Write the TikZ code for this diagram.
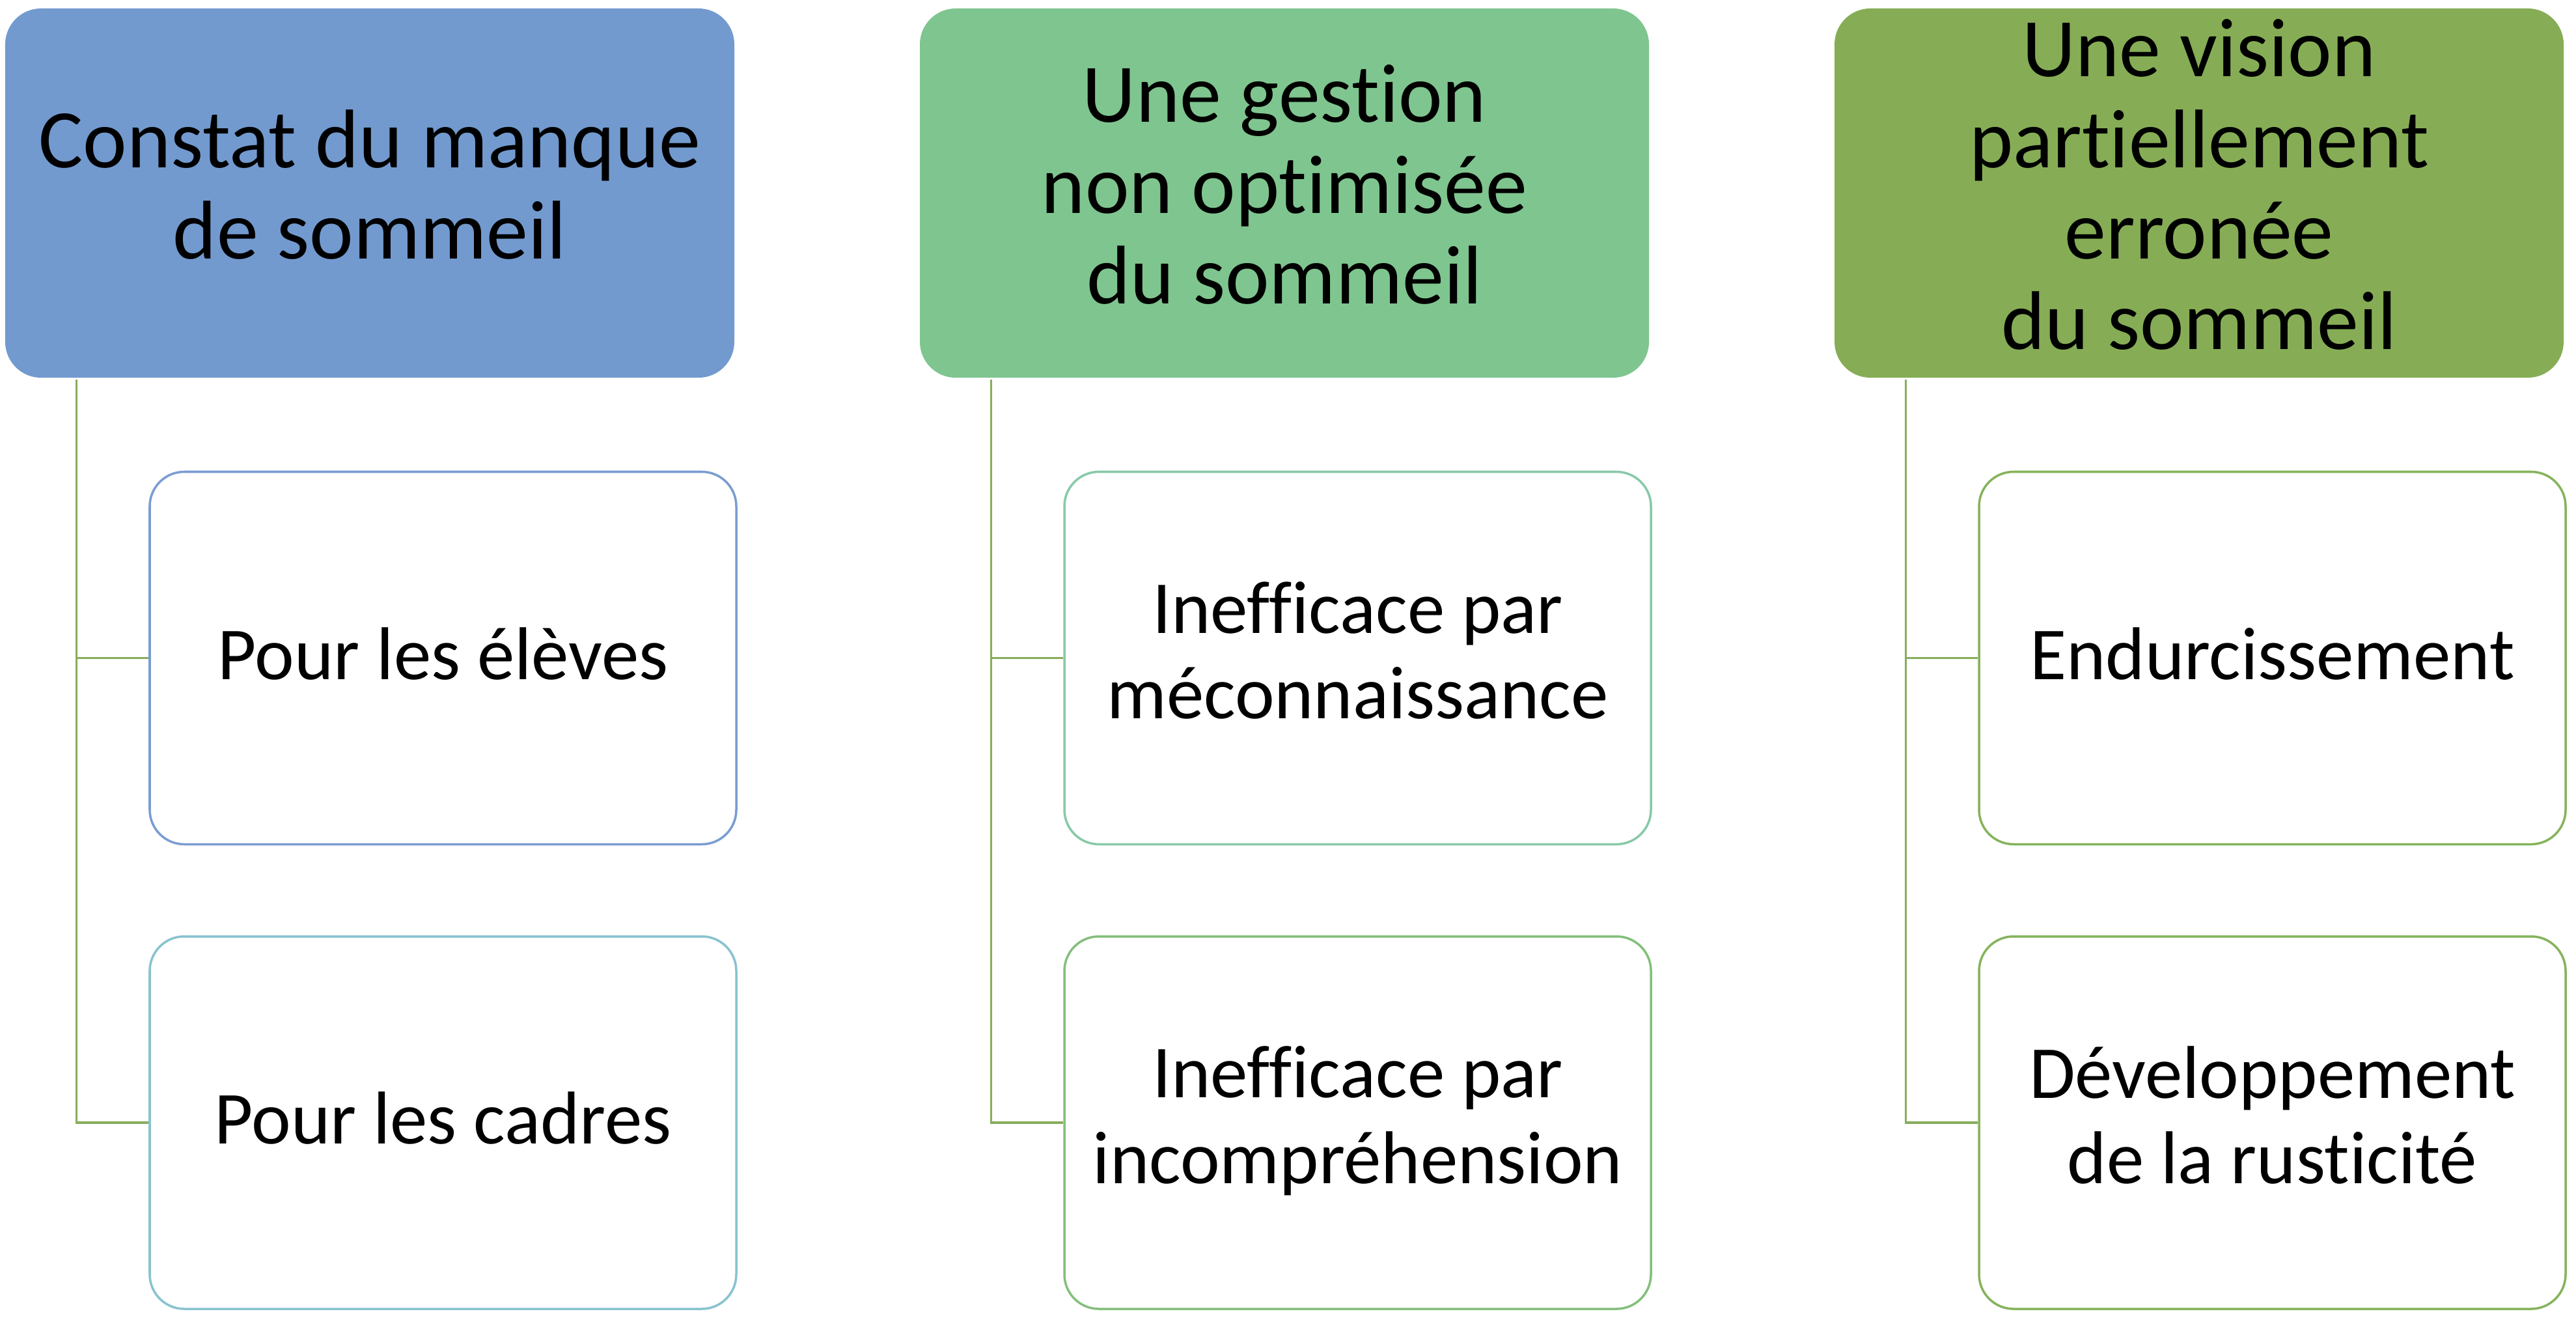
\documentclass[tikz,border=0pt]{standalone}
\usepackage{fontspec}
\setmainfont{Carlito}[Ligatures={NoCommon}]
\definecolor{pblue}{HTML}{729ACF}
\definecolor{pgreen}{HTML}{7FC58F}
\definecolor{polive}{HTML}{86AD55}
\definecolor{trunk}{HTML}{88AD5C}
\definecolor{bblue}{HTML}{7A9DD1}
\definecolor{bteal}{HTML}{88C3CF}
\definecolor{bmint}{HTML}{88C9A8}
\definecolor{bgreen}{HTML}{84BF7C}
\definecolor{bolive}{HTML}{86B35C}
\newcommand\mystrut{\rule[-0.21em]{0pt}{0.99em}}
\begin{document}
\begin{tikzpicture}[
  parent/.style={rounded corners=0.55cm, minimum width=11.20cm, minimum height=5.67cm,
    inner sep=0pt, align=center, font=\fontsize{36.4}{39.8}\selectfont,
    execute at begin node=\mystrut, execute at end node=\mystrut},
  child/.style={draw, line width=1pt, fill=white, rounded corners=0.53cm,
    minimum width=9.01cm, minimum height=5.72cm, inner sep=0pt, align=center,
    font=\fontsize{32.7}{37.3}\selectfont,
    execute at begin node=\mystrut, execute at end node=\mystrut},
  link/.style={draw=trunk, line width=1pt}]
\fill[white] (0,0) rectangle (39.57,-20.24);
\useasboundingbox (0,0) rectangle (39.57,-20.24);

% parents
\node[parent, fill=pblue]  (p1) at (5.68,-2.965)  {Constat du manque\\de sommeil};
\node[parent, fill=pgreen] (p2) at (19.73,-2.965) {Une gestion\\non optimisée\\du sommeil};
\node[parent, fill=polive] (p3) at (33.78,-2.965) {Une vision\\partiellement\\erronée\\du sommeil};

% children
\node[child, draw=bblue]  (c11) at (6.805,-10.105)  {Pour les élèves};
\node[child, draw=bteal]  (c12) at (6.805,-17.24)   {Pour les cadres};
\node[child, draw=bmint]  (c21) at (20.855,-10.105) {Inefficace par\\méconnaissance};
\node[child, draw=bgreen] (c22) at (20.855,-17.24)  {Inefficace par\\incompréhension};
\node[child, draw=bolive] (c31) at (34.905,-10.105) {Endurcissement};
\node[child, draw=bolive] (c32) at (34.905,-17.24)  {Développement\\de la rusticité};

% connectors
\foreach \p/\a/\b in {p1/c11/c12, p2/c21/c22, p3/c31/c32}{
  \draw[link] ([xshift=1.10cm,yshift=-0.02cm]\p.south west) |- (\b.west);
  \draw[link] ([xshift=1.10cm,yshift=-0.02cm]\p.south west) |- (\a.west);
}
\end{tikzpicture}
\end{document}
